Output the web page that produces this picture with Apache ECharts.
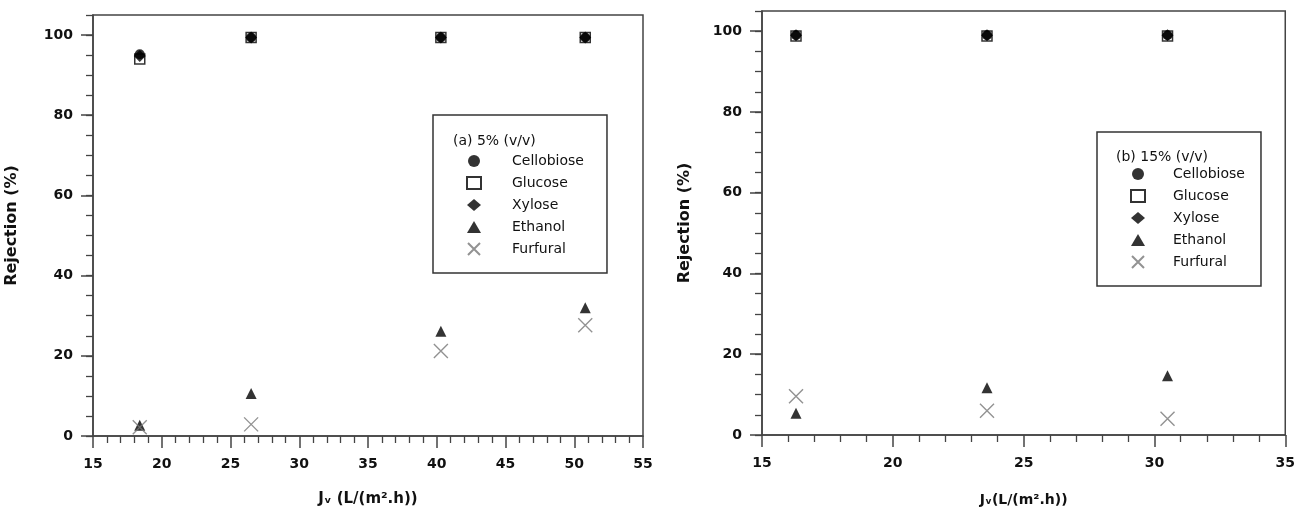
<!DOCTYPE html>
<html>
<head>
<meta charset="utf-8">
<title>Rejection vs flux</title>
<script src="https://cdn.jsdelivr.net/npm/echarts@6/dist/echarts.min.js"></script>
<style>
  html, body { margin: 0; padding: 0; background: #fff; }
  #main { width: 1298px; height: 512px; }
</style>
</head>
<body>
<div id="main"></div>
<script>
// panel (a) 5% (v/v)
var fluxA = [18.4, 26.5, 40.3, 50.8];
var cellobioseA = [95.2, 99.4, 99.4, 99.4];
var glucoseA = [94.0, 99.4, 99.4, 99.4];
var xyloseA = [94.8, 99.4, 99.4, 99.4];
var ethanolA = [2.7, 10.6, 26.1, 32.0];
var furfuralA = [2.2, 2.9, 21.2, 27.6];

// panel (b) 15% (v/v)
var fluxB = [16.3, 23.6, 30.5];
var cellobioseB = [99.0, 99.0, 99.0];
var glucoseB = [98.8, 98.8, 98.8];
var xyloseB = [99.0, 99.0, 99.0];
var ethanolB = [5.4, 11.7, 14.7];
var furfuralB = [9.6, 6.0, 4.0];

var legendNames = ["Cellobiose", "Glucose", "Xylose", "Ethanol", "Furfural"];
var majorY = [0, 20, 40, 60, 80, 100];

var axisColor = "#444";
var textColor = "#111";
var crossPath = "path://M0,0L10,10M10,0L0,10";

function pairs(xs, ys) {
  return xs.map(function (x, i) { return [x, ys[i]]; });
}

function styleFor(name) {
  if (name === "Cellobiose") return { symbol: "circle", symbolSize: 10, itemStyle: { color: "#000" } };
  if (name === "Glucose") return { symbol: "rect", symbolSize: 10, itemStyle: { color: "#fff", borderColor: "#000", borderWidth: 1.5 } };
  if (name === "Xylose") return { symbol: "diamond", symbolSize: 12, itemStyle: { color: "#000" } };
  if (name === "Ethanol") return { symbol: "triangle", symbolSize: 11, itemStyle: { color: "#000" } };
  return { symbol: crossPath, symbolSize: 14, itemStyle: { color: "transparent", borderColor: "#777", borderWidth: 1.4 } };
}

function makeSeries(name, xs, ys, axisIndex) {
  var s = styleFor(name);
  return {
    name: name,
    type: "scatter",
    xAxisIndex: axisIndex,
    yAxisIndex: axisIndex * 2,
    data: pairs(xs, ys),
    symbol: s.symbol,
    symbolSize: s.symbolSize,
    symbolKeepAspect: true,
    itemStyle: s.itemStyle,
    emphasis: { disabled: true },
    animation: false
  };
}

function xAxisFor(gridIndex, max, title, gap, fs) {
  return {
    type: "value",
    gridIndex: gridIndex,
    min: 15,
    max: max,
    interval: 5,
    name: title,
    nameLocation: "middle",
    nameGap: gap,
    nameTextStyle: { fontFamily: "DejaVu Sans", fontWeight: "bold", fontSize: fs, color: textColor },
    axisLine: { lineStyle: { color: axisColor, width: 1.5 } },
    axisTick: { length: 12, lineStyle: { color: axisColor, width: 1.5 } },
    minorTick: { show: true, splitNumber: 5, length: 7, lineStyle: { color: axisColor, width: 1.3 } },
    axisLabel: { margin: 21, fontFamily: "DejaVu Sans", fontWeight: "bold", fontSize: 14, color: textColor },
    splitLine: { show: false }
  };
}

function yAxesFor(gridIndex, gap) {
  return [
    {
      type: "value",
      gridIndex: gridIndex,
      min: 0,
      max: 105,
      interval: 20,
      name: "Rejection (%)",
      nameLocation: "middle",
      nameGap: gap,
      nameTextStyle: { fontFamily: "DejaVu Sans", fontWeight: "bold", fontSize: 16, color: textColor },
      axisLine: { lineStyle: { color: axisColor, width: 1.5 } },
      axisTick: { length: 12, customValues: majorY, lineStyle: { color: axisColor, width: 1.5 } },
      axisLabel: { margin: 20, showMaxLabel: false, fontFamily: "DejaVu Sans", fontWeight: "bold", fontSize: 14, color: textColor },
      splitLine: { show: false }
    },
    {
      type: "value",
      gridIndex: gridIndex,
      position: "left",
      min: 0,
      max: 105,
      interval: 5,
      axisLine: { show: false },
      axisTick: { length: 7, lineStyle: { color: axisColor, width: 1.3 } },
      axisLabel: { show: false },
      splitLine: { show: false }
    }
  ];
}

function legendFor(left, top, padding, textGap) {
  return {
    orient: "vertical",
    left: left,
    top: top,
    data: legendNames,
    selectedMode: false,
    backgroundColor: "#fff",
    borderColor: "#333",
    borderWidth: 1.5,
    borderRadius: 0,
    padding: padding,
    itemWidth: 14,
    itemHeight: 12,
    itemGap: 8,
    textStyle: { fontFamily: "DejaVu Sans", fontSize: 14, color: textColor, lineHeight: 14, padding: [0, 0, 0, textGap] }
  };
}

var series = [];
// glucose first so the filled marks sit on top of the open square
["Glucose", "Cellobiose", "Xylose", "Ethanol", "Furfural"].forEach(function (n) {
  var a = { Cellobiose: cellobioseA, Glucose: glucoseA, Xylose: xyloseA, Ethanol: ethanolA, Furfural: furfuralA }[n];
  series.push(makeSeries(n, fluxA, a, 0));
});
["Glucose", "Cellobiose", "Xylose", "Ethanol", "Furfural"].forEach(function (n) {
  var b = { Cellobiose: cellobioseB, Glucose: glucoseB, Xylose: xyloseB, Ethanol: ethanolB, Furfural: furfuralB }[n];
  series.push(makeSeries(n, fluxB, b, 1));
});

var option = {
  backgroundColor: "#fff",
  animation: false,
  title: [
    { text: "(a) 5% (v/v)", left: 448, top: 129, textStyle: { fontFamily: "DejaVu Sans", fontSize: 14, fontWeight: "normal", color: textColor } },
    { text: "(b) 15% (v/v)", left: 1111, top: 145, textStyle: { fontFamily: "DejaVu Sans", fontSize: 14, fontWeight: "normal", color: textColor } }
  ],
  legend: [
    legendFor(433, 115, [39, 23, 17, 33], 26),
    legendFor(1097, 132, [35, 16, 17, 33], 23)
  ],
  grid: [
    { left: 93, top: 15, width: 550, height: 429, show: true, borderColor: axisColor, borderWidth: 1.5, containLabel: false },
    { left: 762, top: 11, width: 526, height: 433, show: true, borderColor: axisColor, borderWidth: 1.5, containLabel: false }
  ],
  xAxis: [
    xAxisFor(0, 55, "J\u1d65 (L/(m\u00b2.h))", 56, 15),
    xAxisFor(1, 35, "J\u1d65(L/(m\u00b2.h))", 58, 14)
  ],
  yAxis: yAxesFor(0, 73).concat(yAxesFor(1, 69)),
  series: series
};

var myChart = echarts.init(document.getElementById("main"));
myChart.setOption(option);
</script>
</body>
</html>
